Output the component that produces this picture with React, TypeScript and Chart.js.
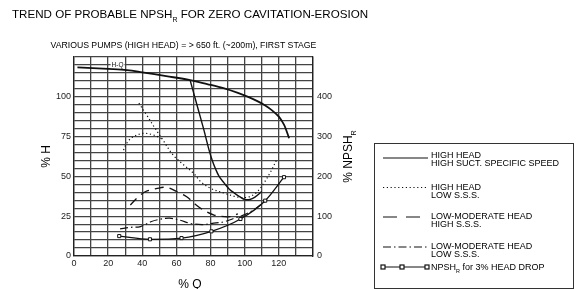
import React, { useEffect, useRef } from "react";
import { Chart, registerables } from "chart.js";
Chart.register(...registerables);

const FONT = "'Liberation Sans', Arial, Helvetica, sans-serif";

// Tick labels
const xTickLabels = [0, 20, 40, 60, 80, 100, 120];
const hTickLabels = [0, 25, 50, 75, 100];
const npshTickLabels = [0, 100, 200, 300, 400];

// H-Q curve (% Q vs % H, left axis)
const hqQ = [2, 20, 31, 40, 54, 68, 78, 88, 96, 102, 108, 112, 116, 120, 123, 124.5, 126];
const hqH = [118.5, 117.5, 116.8, 115.4, 113, 110.5, 108, 105.3, 102.5, 100, 97, 94.5, 91.5, 87.5, 82.5, 78.5, 74];

// NPSH_R curves (% NPSH_R, right axis)
const highHeadHighSssQ = [68, 72, 76, 79, 81, 83, 85, 88, 91, 94, 97, 100, 103, 106, 110];
const highHeadHighSssN = [442, 380, 318, 268, 240, 218, 200, 183, 168, 158, 149, 142, 142, 148, 162];

const highHeadLowSssQ = [38, 42, 47, 52, 58, 64, 70, 74, 80, 88, 96, 102, 107, 111, 115, 119];
const highHeadLowSssN = [384, 358, 324, 292, 254, 230, 208, 188, 170, 158, 148, 148, 160, 182, 210, 244];

const highHeadLowSssBranchQ = [29, 31, 34, 40, 45, 50, 52];
const highHeadLowSssBranchN = [266, 284, 298, 308, 306, 298, 292];

const lowModHighSssQ = [33, 37, 42, 47, 51, 55, 60, 66, 71, 76, 82, 88, 92, 96];
const lowModHighSssN = [128, 146, 162, 168, 172, 172, 162, 149, 130, 115, 103, 99, 99, 106];

const lowModLowSssQ = [27, 33, 39, 45, 50, 56, 62, 68, 75, 81, 88, 94, 100, 106, 113];
const lowModLowSssN = [68, 72, 74, 86, 92, 95, 90, 82, 79, 82, 86, 95, 104, 118, 142];

const headDropQ = [26.5, 44.5, 63, 80.5, 97.5, 112, 123];
const headDropN = [50, 42, 45, 62, 93, 139, 198];

const legendLines = [
  ["HIGH HEAD", "HIGH SUCT. SPECIFIC SPEED"],
  ["HIGH HEAD", "LOW S.S.S."],
  ["LOW-MODERATE HEAD", "HIGH S.S.S."],
  ["LOW-MODERATE HEAD", "LOW S.S.S."],
];
const legendLast = ["NPSH", "R", " for 3% HEAD DROP"];

const pts = (xs: number[], ys: number[]) => xs.map((x, i) => ({ x, y: ys[i] }));

type Part = [string, boolean];
function drawRich(ctx: CanvasRenderingContext2D, x: number, y: number, parts: Part[], size: number, align: "left" | "center") {
  let total = 0;
  const widths: number[] = [];
  for (const [t, sub] of parts) {
    ctx.font = `${sub ? size * 0.6 : size}px ${FONT}`;
    const w = ctx.measureText(t).width;
    widths.push(w);
    total += w;
  }
  let cx = align === "center" ? x - total / 2 : x;
  parts.forEach(([t, sub], i) => {
    ctx.font = `${sub ? size * 0.6 : size}px ${FONT}`;
    ctx.fillText(t, cx, sub ? y + size * 0.3 : y);
    cx += widths[i];
  });
}

const DOT = [1.2, 2.6];
const DASH = [9, 6];
const DASHDOT = [8, 3, 1.5, 3];

const textPlugin = {
  id: "texts",
  afterDraw(chart: any) {
    const ctx: CanvasRenderingContext2D = chart.ctx;
    const area = chart.chartArea;
    ctx.save();
    ctx.fillStyle = "#000";
    ctx.textBaseline = "alphabetic";
    ctx.textAlign = "left";
    drawRich(ctx, 12, 18.3, [["TREND OF PROBABLE NPSH", false], ["R", true], [" FOR ZERO CAVITATION-EROSION", false]], 11.6, "left");
    ctx.font = `8.7px ${FONT}`;
    ctx.fillText("VARIOUS PUMPS (HIGH HEAD) = > 650 ft. (~200m), FIRST STAGE", 50.5, 48.3);

    // axis titles
    const midY = (area.top + area.bottom) / 2;
    ctx.save();
    ctx.translate(50, midY);
    ctx.rotate(-Math.PI / 2);
    drawRich(ctx, 0, 0, [["% H", false]], 12, "center");
    ctx.restore();
    ctx.save();
    ctx.translate(352, midY);
    ctx.rotate(-Math.PI / 2);
    drawRich(ctx, 0, 0, [["% NPSH", false], ["R", true]], 12, "center");
    ctx.restore();
    drawRich(ctx, 190, 287.5, [["% Q", false]], 12, "center");

    // H-Q label
    const xs = chart.scales.x;
    const ys = chart.scales.y;
    const lx = xs.getPixelForValue(25.5);
    const ly = ys.getPixelForValue(119.6);
    ctx.font = `6.5px ${FONT}`;
    const lw = ctx.measureText("H-Q").width;
    ctx.fillStyle = "#fff";
    ctx.fillRect(lx - lw / 2 - 1, ly - 3, lw + 2, 5.5);
    ctx.fillStyle = "#111";
    ctx.textAlign = "center";
    ctx.textBaseline = "middle";
    ctx.fillText("H-Q", lx, ly);

    // legend box
    ctx.textAlign = "left";
    ctx.textBaseline = "alphabetic";
    ctx.strokeStyle = "#333";
    ctx.lineWidth = 1;
    ctx.setLineDash([]);
    ctx.strokeRect(374.5, 143.5, 199, 145);
    const sx0 = 383, sx1 = 428, tx = 431;
    const samples = [158, 187.5, 217, 247];
    const bases = [[158, 166.3], [189.8, 198], [218.5, 226.8], [248.5, 256.8]];
    const dashes = [[], DOT, [14, 9], DASHDOT];
    samples.forEach((sy, i) => {
      ctx.strokeStyle = "#111";
      ctx.lineWidth = i === 1 ? 1 : 1.2;
      ctx.setLineDash(dashes[i]);
      ctx.beginPath();
      ctx.moveTo(sx0, sy);
      ctx.lineTo(sx1, sy);
      ctx.stroke();
      ctx.setLineDash([]);
      ctx.fillStyle = "#000";
      ctx.font = `9px ${FONT}`;
      ctx.fillText(legendLines[i][0], tx, bases[i][0]);
      ctx.fillText(legendLines[i][1], tx, bases[i][1]);
    });
    const sy5 = 267;
    ctx.lineWidth = 1.2;
    ctx.beginPath();
    ctx.moveTo(sx0, sy5);
    ctx.lineTo(sx1, sy5);
    ctx.stroke();
    [sx0, 402, sx1 - 1].forEach((mx) => {
      ctx.fillStyle = "#fff";
      ctx.fillRect(mx - 2, sy5 - 2, 4, 4);
      ctx.strokeRect(mx - 2, sy5 - 2, 4, 4);
    });
    ctx.fillStyle = "#000";
    drawRich(ctx, tx, 270, [[legendLast[0], false], [legendLast[1], true], [legendLast[2], false]], 9, "left");
    ctx.restore();
  },
};

export default function App() {
  const ref = useRef<HTMLCanvasElement>(null);
  useEffect(() => {
    if (!ref.current) return;
    const line = (data: any, axis: string, dash: number[], width = 1.3, extra: any = {}) => ({
      data,
      yAxisID: axis,
      borderColor: "#111",
      backgroundColor: "#fff",
      borderWidth: width,
      borderDash: dash,
      pointRadius: 0,
      tension: 0.35,
      fill: false,
      ...extra,
    });
    const gridColor = "#444";
    const chart = new Chart(ref.current, {
      type: "line",
      data: {
        datasets: [
          line(pts(hqQ, hqH), "y", [], 1.8),
          line(pts(highHeadHighSssQ, highHeadHighSssN), "y1", [], 1.4),
          line(pts(highHeadLowSssQ, highHeadLowSssN), "y1", DOT, 1.2),
          line(pts(highHeadLowSssBranchQ, highHeadLowSssBranchN), "y1", DOT, 1.2),
          line(pts(lowModHighSssQ, lowModHighSssN), "y1", DASH, 1.3),
          line(pts(lowModLowSssQ, lowModLowSssN), "y1", DASHDOT, 1.2),
          line(pts(headDropQ, headDropN), "y1", [], 1.3, {
            pointRadius: 2.2,
            pointStyle: "rect",
            pointBorderColor: "#111",
            pointBackgroundColor: "#fff",
            pointBorderWidth: 1,
            cubicInterpolationMode: "monotone",
          }),
        ],
      },
      options: {
        animation: false,
        responsive: false,
        maintainAspectRatio: false,
        layout: { padding: { left: 0, right: 213, top: 57, bottom: 0 } },
        plugins: { legend: { display: false }, tooltip: { enabled: false }, title: { display: false } },
        scales: {
          x: {
            type: "linear",
            min: 0,
            max: 140,
            ticks: {
              stepSize: 10,
              autoSkip: false,
              maxRotation: 0,
              padding: 2,
              color: "#222",
              font: { family: FONT, size: 9 },
              callback: (v: any) => (xTickLabels.includes(Number(v)) ? String(v) : ""),
            },
            grid: { color: gridColor, lineWidth: 1.3, drawTicks: false },
            border: { color: "#222", width: 1.3 },
            afterFit: (s: any) => { s.height = 33; },
          },
          y: {
            type: "linear",
            position: "left",
            min: 0,
            max: 125,
            ticks: {
              stepSize: 5,
              autoSkip: false,
              padding: 3,
              color: "#222",
              font: { family: FONT, size: 9 },
              callback: (v: any) => (hTickLabels.includes(Number(v)) ? String(v) : ""),
            },
            grid: { color: gridColor, lineWidth: 1.3, drawTicks: false },
            border: { color: "#222", width: 1.3 },
            afterFit: (s: any) => { s.width = 74; },
          },
          y1: {
            type: "linear",
            position: "right",
            min: 0,
            max: 500,
            ticks: {
              stepSize: 100,
              autoSkip: false,
              padding: 4,
              color: "#222",
              font: { family: FONT, size: 9 },
              callback: (v: any) => (npshTickLabels.includes(Number(v)) ? String(v) : ""),
            },
            grid: { drawOnChartArea: false, drawTicks: false },
            border: { color: "#222", width: 1.3 },
            afterFit: (s: any) => { s.width = 50; },
          },
        },
      },
      plugins: [textPlugin],
    } as any);
    return () => chart.destroy();
  }, []);
  return (
    <div style={{ position: "absolute", left: 0, top: 0, width: 576, height: 289, background: "#fff" }}>
      <canvas ref={ref} width={576} height={289} style={{ display: "block" }} />
    </div>
  );
}
